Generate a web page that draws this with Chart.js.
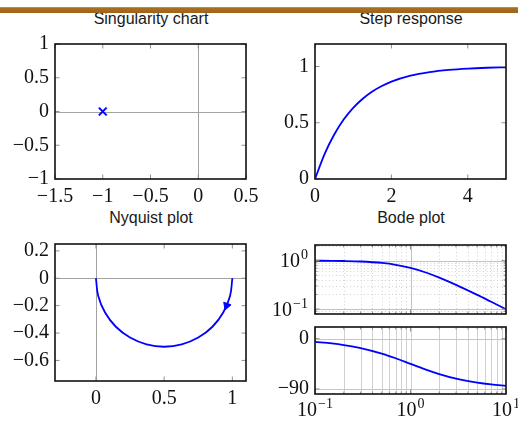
<!DOCTYPE html>
<html>
<head>
<meta charset="utf-8">
<title>First-order lag</title>
<script src="https://cdn.jsdelivr.net/npm/chart.js@4.4.1/dist/chart.umd.min.js"></script>
<style>
  html, body { margin: 0; padding: 0; background: #fff; }
  #page { position: relative; width: 518px; height: 423px; overflow: hidden; }
  #page canvas { position: absolute; left: 0; top: 0; }
  .bar {
    position: absolute; left: 0; top: 7px; width: 518px; height: 6px; z-index: 2;
    background: linear-gradient(#c9975a 0, #a86d20 1.5px, #9d641a 100%);
  }
  .title {
    position: absolute; width: 200px; text-align: center;
    font: 16px "Liberation Sans", Arial, sans-serif; line-height: 16px; color: #1a1a1a;
  }
</style>
</head>
<body>
<div id="page">
  <div class="bar"></div>
  <div class="title" style="left:51px; top:11px">Singularity chart</div>
  <div class="title" style="left:311px; top:11px">Step response</div>
  <div class="title" style="left:51px; top:210px">Nyquist plot</div>
  <div class="title" style="left:311px; top:210px">Bode plot</div>
  <canvas id="pz" width="560" height="440"></canvas>
  <canvas id="step" width="560" height="440"></canvas>
  <canvas id="nyquist" width="560" height="440"></canvas>
  <canvas id="bode-mag" width="560" height="440"></canvas>
  <canvas id="bode-phase" width="560" height="440"></canvas>
</div>
<script>
// pole of G(s) = 1/(s+1)
const poleRe = [-1];
const poleIm = [0];
const pzXTicks = [-1.5, -1, -0.5, 0, 0.5];
const pzYTicks = [-1, -0.5, 0, 0.5, 1];

// step response
const stepTime  = [0, 0.25, 0.5, 0.75, 1, 1.25, 1.5, 1.75, 2, 2.5, 3, 3.5, 4, 4.5, 5];
const stepValue = [0, 0.221, 0.393, 0.528, 0.632, 0.713, 0.777, 0.826, 0.865, 0.918, 0.950, 0.970, 0.982, 0.989, 0.993];
const stepXTicks = [0, 2, 4];
const stepYTicks = [0, 0.5, 1];

// Nyquist locus, omega from 0 upwards
const nyqRe = [1, 0.983, 0.933, 0.854, 0.75, 0.629, 0.5, 0.371, 0.25, 0.146, 0.067, 0.017, 0];
const nyqIm = [0, -0.129, -0.25, -0.354, -0.433, -0.483, -0.5, -0.483, -0.433, -0.354, -0.25, -0.129, 0];
const nyqArrowRe = [0.958];
const nyqArrowIm = [-0.2];
const nyqXTicks = [0, 0.5, 1];
const nyqYTicks = [-0.6, -0.4, -0.2, 0, 0.2];

// Bode data
const bodeFreq  = [0.1, 0.15, 0.2, 0.3, 0.5, 0.7, 1, 1.5, 2, 3, 5, 7, 10];
const bodeMag   = [0.995, 0.989, 0.981, 0.958, 0.894, 0.819, 0.707, 0.555, 0.447, 0.316, 0.196, 0.141, 0.0995];
const bodePhase = [-5.7, -8.5, -11.3, -16.7, -26.6, -35.0, -45.0, -56.3, -63.4, -71.6, -78.7, -81.9, -84.3];
const freqDecades = [0.1, 1, 10];
const magDecades = [0.1, 1];
const phaseTicks = [-90, 0];

const PAGE_W = 560, PAGE_H = 440;
const BLUE = '#0000ff';
const SERIF = '"Liberation Serif", "Times New Roman", serif';

Chart.defaults.font.family = SERIF;
Chart.defaults.font.size = 20;
Chart.defaults.color = '#111';

const points = (xs, ys) => xs.map((x, i) => ({ x: x, y: ys[i] }));
const fmt = v => v < 0 ? '\u2212' + (-v) : String(v);
const isDecade = v => Math.abs(Math.log10(v) - Math.round(Math.log10(v))) < 1e-6;

// all 1..9 multiples of each decade inside [lo, hi]
function logTicks(lo, hi) {
    const out = [];
    for (let e = Math.floor(Math.log10(lo)); e <= Math.ceil(Math.log10(hi)); e++) {
        for (let k = 1; k <= 9; k++) {
            const v = parseFloat((k * Math.pow(10, e)).toPrecision(6));
            if (v >= lo * 0.999 && v <= hi * 1.001) out.push(v);
        }
    }
    return out;
}

function fixSize(size) {
    return s => {
        if (s.isHorizontal()) s.height = size;
        else s.width = size;
    };
}

function linAxis(min, max, values, size, pad) {
    return {
        type: 'linear', min: min, max: max,
        grid: { display: false, drawTicks: false },
        border: { display: false },
        ticks: { autoSkip: false, maxRotation: 0, padding: pad, callback: v => fmt(v) },
        afterBuildTicks: s => { s.ticks = values.map(v => ({ value: v })); },
        afterFit: fixSize(size)
    };
}

// decade labels are drawn by the frame plugin as 10 with a raised exponent
function logAxis(min, max, size) {
    return {
        type: 'logarithmic', min: min, max: max,
        grid: { display: false, drawTicks: false },
        border: { display: false },
        ticks: { display: false },
        afterBuildTicks: s => {
            s.ticks = logTicks(min, max).map(v => ({ value: v, major: isDecade(v) }));
        },
        afterFit: fixSize(size)
    };
}

function drawPower(ctx, v, x, baseline, align) {
    const exp = fmt(Math.round(Math.log10(v)));
    ctx.font = '20px ' + SERIF;
    const wb = ctx.measureText('10').width;
    ctx.font = '14px ' + SERIF;
    const we = ctx.measureText(exp).width;
    const x0 = align === 'center' ? x - (wb + we + 1) / 2 : x - (wb + we + 1);
    ctx.font = '20px ' + SERIF;
    ctx.fillText('10', x0, baseline);
    ctx.font = '14px ' + SERIF;
    ctx.fillText(exp, x0 + wb + 1, baseline - 8);
}

// grid lines under the data, inward tick marks and the box on top
const framePlugin = {
    id: 'frame',
    beforeDatasetsDraw(chart, args, opts) {
        const ctx = chart.ctx, a = chart.chartArea;
        ctx.save();
        ctx.beginPath();
        ctx.rect(a.left, a.top, a.width, a.height);
        ctx.clip();
        (opts.lines || []).forEach(l => {
            const scale = chart.scales[l.axis];
            ctx.strokeStyle = l.color;
            ctx.lineWidth = l.width || 1;
            ctx.setLineDash(l.dash || []);
            l.values.forEach(v => {
                const p = Math.round(scale.getPixelForValue(v)) + 0.5;
                ctx.beginPath();
                if (l.axis === 'x') { ctx.moveTo(p, a.top); ctx.lineTo(p, a.bottom); }
                else { ctx.moveTo(a.left, p); ctx.lineTo(a.right, p); }
                ctx.stroke();
            });
        });
        ctx.restore();
    },
    afterDatasetsDraw(chart, args, opts) {
        const ctx = chart.ctx, a = chart.chartArea;
        ctx.save();
        ctx.strokeStyle = '#8f8f8f';
        ctx.lineWidth = 1;
        ['x', 'y'].forEach(id => {
            const scale = chart.scales[id];
            scale.ticks.forEach(t => {
                const len = t.major === false ? 2.5 : 4.5;
                const p = scale.getPixelForValue(t.value);
                ctx.beginPath();
                if (id === 'x') {
                    ctx.moveTo(p, a.bottom); ctx.lineTo(p, a.bottom - len);
                    ctx.moveTo(p, a.top); ctx.lineTo(p, a.top + len);
                } else {
                    ctx.moveTo(a.left, p); ctx.lineTo(a.left + len, p);
                    ctx.moveTo(a.right, p); ctx.lineTo(a.right - len, p);
                }
                ctx.stroke();
            });
        });
        ctx.strokeStyle = '#111';
        ctx.lineWidth = 1.6;
        ctx.strokeRect(a.left, a.top, a.width, a.height);

        ctx.fillStyle = '#111';
        ctx.textBaseline = 'alphabetic';
        ctx.textAlign = 'left';
        (opts.powersX || []).forEach(v => {
            drawPower(ctx, v, chart.scales.x.getPixelForValue(v), a.bottom + 22, 'center');
        });
        (opts.powersY || []).forEach(v => {
            drawPower(ctx, v, a.left - 7, chart.scales.y.getPixelForValue(v) + 6.5, 'right');
        });
        ctx.restore();
    }
};

function makeChart(id, area, xAxis, yAxis, xHeight, datasets, frame) {
    return new Chart(document.getElementById(id), {
        type: 'scatter',
        data: { datasets: datasets },
        options: {
            responsive: false,
            animation: false,
            events: [],
            layout: {
                padding: {
                    left: 0,
                    top: area.top,
                    right: PAGE_W - area.right,
                    bottom: PAGE_H - area.bottom - xHeight
                }
            },
            plugins: {
                legend: { display: false },
                tooltip: { enabled: false },
                frame: frame
            },
            scales: { x: xAxis, y: yAxis }
        },
        plugins: [framePlugin]
    });
}

const curve = extra => Object.assign({
    showLine: true, pointRadius: 0, borderColor: BLUE, borderWidth: 1.8, fill: false
}, extra);

const zeroLines = [
    { axis: 'x', values: [0], color: '#a3a3a3' },
    { axis: 'y', values: [0], color: '#a3a3a3' }
];

// singularity chart
makeChart('pz', { left: 55, right: 246, top: 44, bottom: 179 },
    linAxis(-1.5, 0.5, pzXTicks, 30, 6),
    linAxis(-1, 1, pzYTicks, 55, 6),
    30,
    [{
        data: points(poleRe, poleIm), showLine: false,
        pointStyle: 'crossRot', pointRadius: 5.5, borderColor: BLUE, borderWidth: 2
    }],
    { lines: zeroLines });

// step response
makeChart('step', { left: 315, right: 506, top: 44, bottom: 179 },
    linAxis(0, 5, stepXTicks, 30, 6),
    linAxis(0, 1.2, stepYTicks, 315, 6),
    30,
    [curve({ data: points(stepTime, stepValue), cubicInterpolationMode: 'monotone' })],
    { lines: [] });

// Nyquist plot
makeChart('nyquist', { left: 55, right: 246, top: 244, bottom: 381 },
    linAxis(-0.3, 1.1, nyqXTicks, 30, 6),
    linAxis(-0.75, 0.25, nyqYTicks, 55, 6),
    30,
    [
        curve({ data: points(nyqRe, nyqIm), tension: 0.4 }),
        {
            data: points(nyqArrowRe, nyqArrowIm), showLine: false,
            pointStyle: 'triangle', pointRadius: 4.5, rotation: 200,
            backgroundColor: BLUE, borderColor: BLUE, borderWidth: 1
        }
    ],
    { lines: zeroLines });

// Bode magnitude
const freqGrid = logTicks(0.1, 10);
const magGrid = logTicks(0.079, 2.1);
makeChart('bode-mag', { left: 315, right: 506, top: 245, bottom: 314 },
    logAxis(0.1, 10, 0),
    logAxis(0.079, 2.1, 315),
    0,
    [curve({ data: points(bodeFreq, bodeMag), cubicInterpolationMode: 'monotone' })],
    {
        lines: [
            { axis: 'x', values: freqGrid.filter(v => !isDecade(v)), color: '#d2d2d2', dash: [1, 2.5] },
            { axis: 'y', values: magGrid.filter(v => !isDecade(v)), color: '#d2d2d2', dash: [1, 2.5] },
            { axis: 'x', values: freqDecades, color: '#c2c2c2' },
            { axis: 'y', values: magDecades, color: '#c2c2c2' }
        ],
        powersY: magDecades
    });

// Bode phase
makeChart('bode-phase', { left: 315, right: 506, top: 327, bottom: 394 },
    logAxis(0.1, 10, 30),
    linAxis(-99, 21, phaseTicks, 315, 6),
    30,
    [curve({ data: points(bodeFreq, bodePhase), cubicInterpolationMode: 'monotone' })],
    {
        lines: [
            { axis: 'x', values: freqGrid, color: '#d0d0d0' },
            { axis: 'y', values: phaseTicks, color: '#c6c6c6' }
        ],
        powersX: freqDecades
    });
</script>
</body>
</html>
